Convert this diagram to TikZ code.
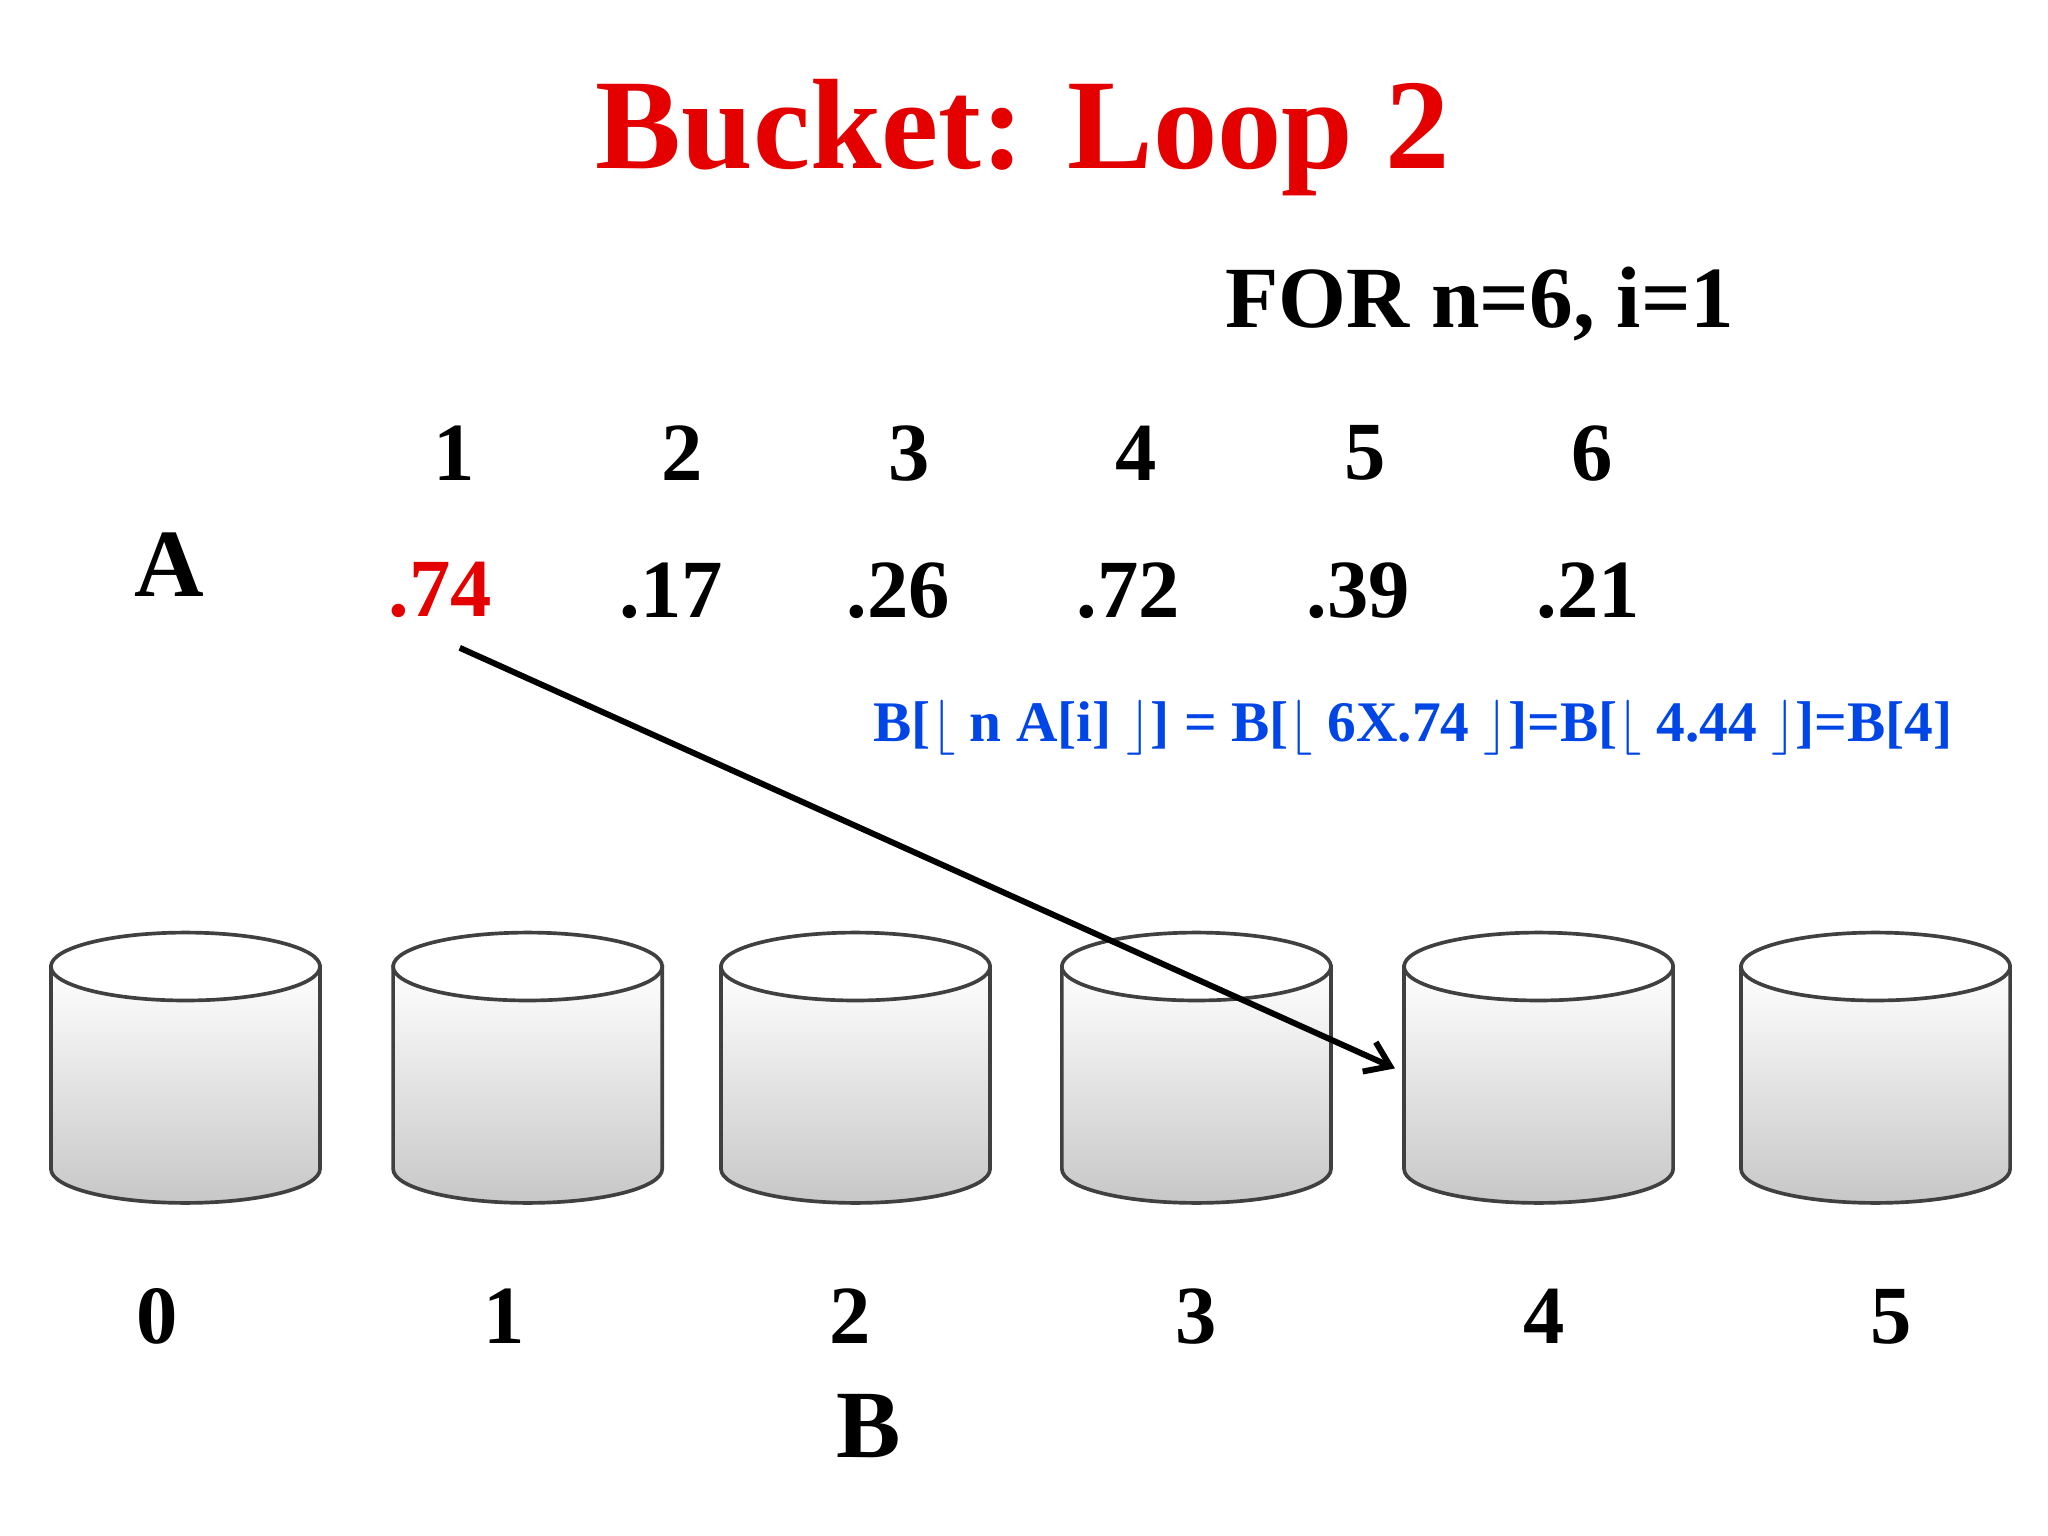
\documentclass[tikz,border=0pt]{standalone}
\usepackage{fontspec}
\usetikzlibrary{arrows.meta}
\setmainfont{Liberation Serif}
\begin{document}
\begin{tikzpicture}[x=0.01cm,y=-0.01cm,
  lbl/.style={font=\bfseries\fontsize{18}{22}\selectfont},
  cyl/.style={draw=black!75,line width=0.8pt,top color=white,bottom color=black!22}]
\useasboundingbox (0,0) rectangle (1568,1176);
\node[font=\bfseries\fontsize{28}{32}\selectfont,text=red!90!black] (title) at (783,105) {Bucket: Loop 2};
\node[lbl,font=\bfseries\fontsize{19}{24}\selectfont] (for) at (1133,233) {FOR n=6, i=1};
\node[lbl,font=\bfseries\fontsize{21}{26}\selectfont] (A) at (130,432) {A};
\foreach \i/\x/\v in {1/348/.74,2/522/.17,3/696/.26,4/870/.72,5/1045/.39,6/1219/.21}{
  \node[lbl] (n\i) at (\x,347) {\i};
}
\node[lbl,text=red!90!black] (v1) at (337,452) {.74};
\foreach \i/\x/\v in {2/514/.17,3/688/.26,4/864/.72,5/1040/.39,6/1216/.21}{
  \node[lbl] (v\i) at (\x,452) {\v};
}
\node[font=\bfseries\fontsize{12.5}{16}\selectfont,text=blue!70!cyan!90!black] (f) at (1082,557)
 {B[$\lfloor$ n A[i] $\rfloor$] = B[$\lfloor$ 6X.74 $\rfloor$]=B[$\lfloor$ 4.44 $\rfloor$]=B[4]};
\foreach \k/\x/\lx in {0/142/120,1/404/386,2/655/651,3/916/916,4/1178/1182,5/1436/1448}{
  \path[cyl] (\x-103,740) -- (\x-103,895) arc[start angle=180,end angle=0,x radius=103,y radius=26] -- (\x+103,740) -- cycle;
  \draw[black!75,line width=0.8pt,fill=white] (\x,740) ellipse[x radius=103,y radius=26];
  \node[lbl] (b\k) at (\lx,1008) {\k};
}
\node[lbl,font=\bfseries\fontsize{21}{26}\selectfont] (B) at (665,1092) {B};
\coordinate (s) at (352,496);
\coordinate (e) at (1068,818);
\draw[-{Straight Barb[length=5pt,width=7pt]},line width=1.3pt] (s) -- (e);
\end{tikzpicture}
\end{document}
